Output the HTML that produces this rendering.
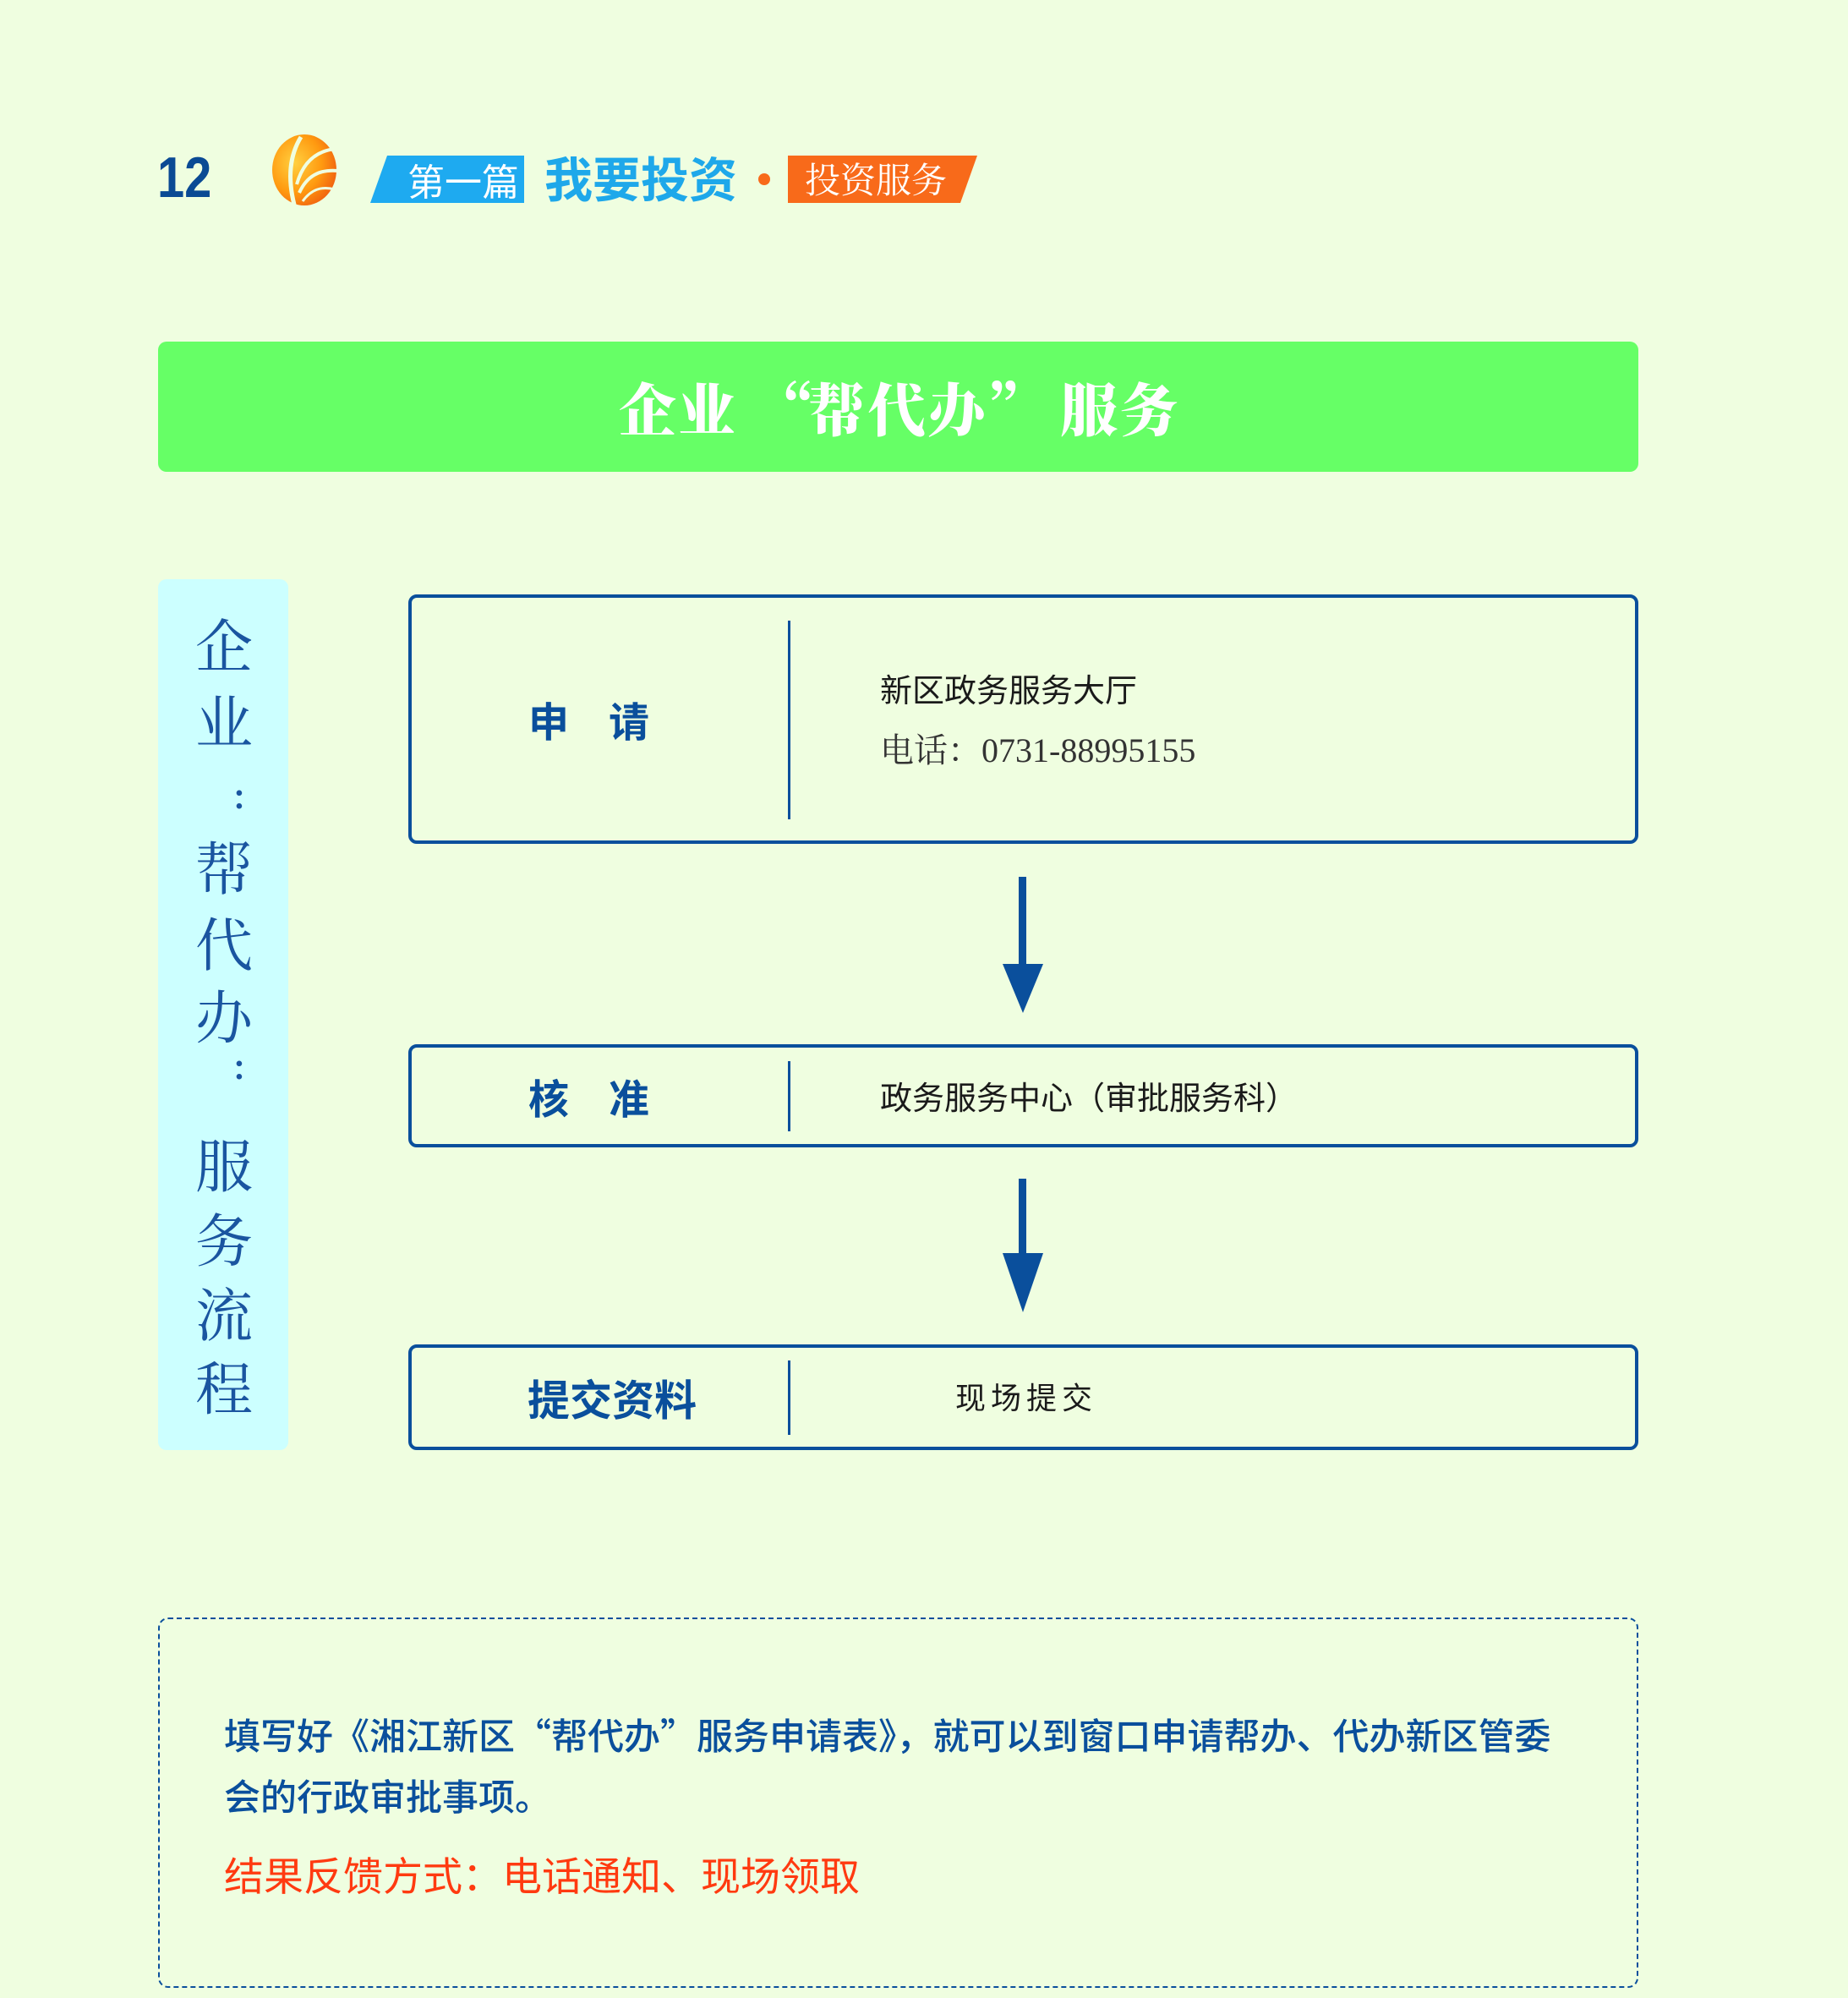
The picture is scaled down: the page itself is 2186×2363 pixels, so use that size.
<!DOCTYPE html>
<html><head><meta charset="utf-8"><style>
*{margin:0;padding:0;box-sizing:border-box}
body{width:2186px;height:2363px;background:#effee0;position:relative;overflow:hidden;font-family:"Liberation Sans","Noto Sans CJK SC",sans-serif}
.a{position:absolute;white-space:nowrap}
.box{position:absolute;border:4px solid #0a4f9c;border-radius:10px}
.div{position:absolute;width:3px;background:#0a4f9c}
.lab{position:absolute;color:#0a4f9c;font-weight:bold;font-size:48px;line-height:1;white-space:nowrap;font-family:"Noto Sans CJK SC",sans-serif}
.txt{position:absolute;color:#1a1a1a;line-height:1;white-space:nowrap;font-family:"Noto Sans CJK SC",sans-serif}
.v{position:absolute;left:220px;width:90px;text-align:center;color:#1a55a0;font-size:68px;line-height:1;font-family:"Noto Serif CJK SC",serif}
.t{position:absolute;top:448px;color:#fff;font-size:68px;font-weight:900;line-height:1;font-family:"Noto Serif CJK SC",serif}
</style></head><body>
<div class="a" style="left:186px;top:176px;font-size:68px;font-weight:bold;color:#0a4a94;line-height:1;transform:scaleX(0.85);transform-origin:left">12</div>
<svg class="a" style="left:318px;top:158px" width="90" height="86" viewBox="0 0 90 86">
<defs><radialGradient id="g" cx="0.35" cy="0.4" r="0.7"><stop offset="0" stop-color="#ffd040"/><stop offset="0.6" stop-color="#ff9a10"/><stop offset="1" stop-color="#f06010"/></radialGradient></defs>
<ellipse cx="42" cy="43" rx="38" ry="42" fill="url(#g)"/>
<path d="M30 84 C24 60 22 30 38 4" stroke="#effee0" stroke-width="5" fill="none"/>
<path d="M33 60 C40 35 55 20 80 18" stroke="#effee0" stroke-width="4" fill="none"/>
<path d="M36 70 C45 50 60 42 82 44" stroke="#effee0" stroke-width="4" fill="none"/>
<path d="M40 80 C50 66 62 62 78 66" stroke="#effee0" stroke-width="3" fill="none"/>
</svg>
<svg class="a" style="left:438px;top:184px" width="182" height="56"><polygon points="20,0 182,0 182,56 0,56" fill="#1eaaf0"/></svg>
<div class="a" style="left:482px;top:188px;font-size:44px;color:#fff;line-height:48px;font-family:'Noto Sans CJK SC',sans-serif">第一篇</div>
<div class="a" style="left:644px;top:178px;font-size:57px;font-weight:bold;color:#1ea8ea;line-height:62px;font-family:'Noto Sans CJK SC',sans-serif">我要投资</div>
<div class="a" style="left:897px;top:205px;width:14px;height:14px;border-radius:7px;background:#f86a1a"></div>
<svg class="a" style="left:932px;top:184px" width="224" height="56"><polygon points="0,0 224,0 204,56 0,56" fill="#f86a1a"/></svg>
<div class="a" style="left:952px;top:186px;font-size:42px;color:#fff;line-height:50px;font-family:'Noto Serif CJK SC',serif">投资服务</div>
<div class="a" style="left:187px;top:404px;width:1751px;height:154px;background:#66ff66;border-radius:10px"></div>
<div class="t" style="left:732px">企</div><div class="t" style="left:802px">业</div>
<div class="t" style="left:895px">“</div>
<div class="t" style="left:956px">帮</div><div class="t" style="left:1027px">代</div><div class="t" style="left:1097px">办</div>
<div class="t" style="left:1168px">”</div>
<div class="t" style="left:1254px">服</div><div class="t" style="left:1325px">务</div>
<div class="a" style="left:187px;top:685px;width:154px;height:1030px;background:#ccffff;border-radius:10px"></div>
<div class="v" style="top:727px">企</div>
<div class="v" style="top:817px">业</div>
<div class="v" style="top:920px;font-size:40px;left:238px;font-weight:bold">:</div>
<div class="v" style="top:990px">帮</div>
<div class="v" style="top:1080px">代</div>
<div class="v" style="top:1166px">办</div>
<div class="v" style="top:1240px;font-size:40px;left:238px;font-weight:bold">:</div>
<div class="v" style="top:1342px">服</div>
<div class="v" style="top:1430px">务</div>
<div class="v" style="top:1518px">流</div>
<div class="v" style="top:1605px">程</div>
<div class="box" style="left:483px;top:703px;width:1455px;height:295px"></div>
<div class="div" style="left:932px;top:734px;height:235px"></div>
<div class="lab" style="left:625px;top:826px">申</div>
<div class="lab" style="left:720px;top:826px">请</div>
<div class="txt" style="left:1041px;top:795px;font-size:38px">新区政务服务大厅</div>
<div class="txt" style="left:1041px;top:868px;font-size:40px;color:#333;font-family:'Liberation Serif','Noto Serif CJK SC',serif">电话：0731-88995155</div>
<div class="a" style="left:1205px;top:1037px;width:9px;height:112px;background:#0a4f9c"></div>
<svg class="a" style="left:1186px;top:1140px" width="48" height="60"><polygon points="0,0 48,0 24,58" fill="#0a4f9c"/></svg>
<div class="box" style="left:483px;top:1235px;width:1455px;height:122px"></div>
<div class="div" style="left:932px;top:1255px;height:83px"></div>
<div class="lab" style="left:625px;top:1272px">核</div>
<div class="lab" style="left:720px;top:1272px">准</div>
<div class="txt" style="left:1041px;top:1277px;font-size:38px">政务服务中心（审批服务科）</div>
<div class="a" style="left:1205px;top:1394px;width:9px;height:100px;background:#0a4f9c"></div>
<svg class="a" style="left:1186px;top:1482px" width="48" height="72"><polygon points="0,0 48,0 24,70" fill="#0a4f9c"/></svg>
<div class="box" style="left:483px;top:1590px;width:1455px;height:125px"></div>
<div class="div" style="left:932px;top:1609px;height:88px"></div>
<div class="lab" style="left:624px;top:1628px;font-size:50px">提交资料</div>
<div class="txt" style="left:1130px;top:1633px;font-size:36px;letter-spacing:6px">现场提交</div>
<div class="a" style="left:187px;top:1913px;width:1751px;height:438px;border:2px dashed #0a4f9c;border-radius:12px"></div>
<div class="txt" style="left:265px;top:2030px;font-size:43px;color:#0a4f9c;font-weight:500">填写好《湘江新区“帮代办”服务申请表》，就可以到窗口申请帮办、代办新区管委</div>
<div class="txt" style="left:265px;top:2102px;font-size:43px;color:#0a4f9c;font-weight:500">会的行政审批事项。</div>
<div class="txt" style="left:265px;top:2192px;font-size:47px;color:#ff3a10">结果反馈方式：电话通知、现场领取</div>
</body></html>
